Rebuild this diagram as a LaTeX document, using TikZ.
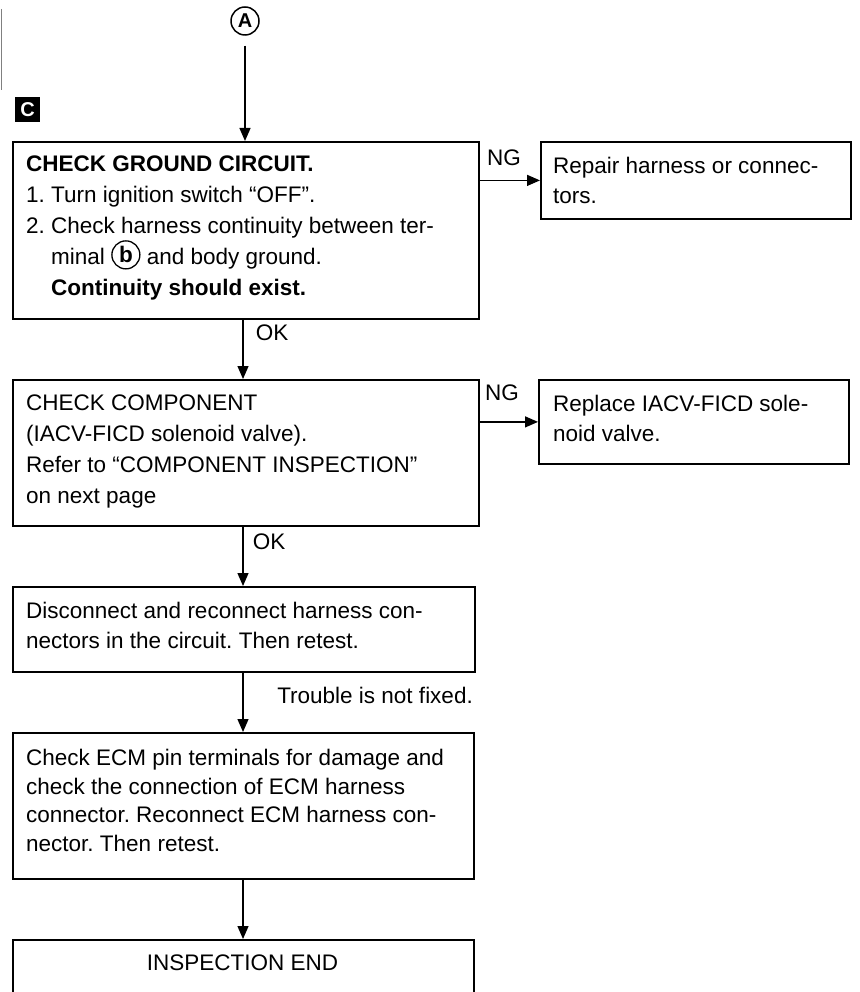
\documentclass[tikz,border=0pt]{standalone}
\usepackage{fontspec}
\setmainfont{Liberation Sans}
\usetikzlibrary{arrows.meta}
\frenchspacing
\newcommand{\cirlet}[1]{\tikz[baseline={([yshift=-2pt]cc.base)}]\node[circle,draw,line width=1.3pt,minimum size=28pt,inner sep=0pt](cc){\bfseries #1};}
\begin{document}
\frenchspacing
\begin{tikzpicture}[x=1pt,y=-1pt,
  box/.style={draw, line width=1.8pt, inner sep=0pt, anchor=north west},
  txt/.style={inner sep=0pt, anchor=north west, align=left},
  lbl/.style={inner sep=0pt, font=\fontsize{22.5}{27}\selectfont},
  conn/.style={line width=1.3pt, -{Triangle[length=13pt,width=11pt]}}]
\useasboundingbox (0,0) rectangle (859,992);
\clip (0,0) rectangle (859,992);
\fill[white] (0,0) rectangle (859,992);
\draw[gray, line width=1.5pt] (1.5,9) -- (1.5,90);

% markers
\node[circle, draw, line width=1.5pt, minimum size=28pt, inner sep=0pt, font=\bfseries\fontsize{20}{20}\selectfont] (A) at (245,21) {A};
\node[fill=black, text=white, minimum size=25pt, inner sep=0pt, font=\bfseries\fontsize{20}{20}\selectfont] (C) at (27.5,109.5) {C};

% boxes
\node[box, minimum width=466pt, minimum height=177pt] (b1) at (12,141) {};
\node[box, minimum width=310pt, minimum height=77pt] (r1) at (540,141) {};
\node[box, minimum width=466pt, minimum height=146pt] (b2) at (12,379) {};
\node[box, minimum width=310pt, minimum height=84pt] (r2) at (538,379) {};
\node[box, minimum width=462pt, minimum height=85pt] (b3) at (12,586) {};
\node[box, minimum width=461pt, minimum height=146pt] (b4) at (12,732) {};
\node[box, minimum width=461pt, minimum height=80pt] (b5) at (12,939) {};

% texts
\node[txt, font=\fontsize{22.5}{31}\selectfont] (t1) at (26,156)
 {\textbf{CHECK GROUND CIRCUIT.}\\
  1. Turn ignition switch “OFF”.\\
  2. Check harness continuity between ter-\\
  \hphantom{2. }minal \cirlet{b} and body ground.\\
  \hphantom{2. }\textbf{Continuity should exist.}};
\node[txt, font=\fontsize{22.5}{30}\selectfont] (tr1) at (553,157)
 {Repair harness or connec-\\tors.};
\node[txt, font=\fontsize{22.5}{31}\selectfont] (t2) at (26,395)
 {CHECK COMPONENT\\
  (IACV-FICD solenoid valve).\\
  Refer to “COMPONENT INSPECTION”\\
  on next page};
\node[txt, font=\fontsize{22.5}{30}\selectfont] (tr2) at (553,395)
 {Replace IACV-FICD sole-\\noid valve.};
\node[txt, font=\fontsize{22.5}{30}\selectfont] (t3) at (26,602)
 {Disconnect and reconnect harness con-\\
  nectors in the circuit. Then retest.};
\node[txt, font=\fontsize{22.5}{28.7}\selectfont] (t4) at (26,749)
 {Check ECM pin terminals for damage and\\
  check the connection of ECM harness\\
  connector. Reconnect ECM harness con-\\
  nector. Then retest.};
\node[lbl] (t5) at (242.5,963) {INSPECTION END};

% labels
\node[lbl] (ng1) at (504,158) {NG};
\node[lbl] (ng2) at (502,393) {NG};
\node[lbl] (ok1) at (272,333) {OK};
\node[lbl] (ok2) at (269,542) {OK};
\node[lbl, anchor=east] (tnf) at (473,695) {Trouble is not fixed.};

% connectors
\coordinate (col) at (243,0);
\draw[conn] ([yshift=-10pt]A.south) -- (A |- b1.north);
\draw[conn] (r1.west -| b1.east) -- (r1.west);
\draw[conn] (b1.south -| col) -- (b2.north -| col);
\draw[conn] (r2.west -| b2.east) -- (r2.west);
\draw[conn] (b2.south -| col) -- (b3.north -| col);
\draw[conn] (b3.south -| col) -- (b4.north -| col);
\draw[conn] (b4.south -| col) -- (b5.north -| col);
\end{tikzpicture}
\end{document}
